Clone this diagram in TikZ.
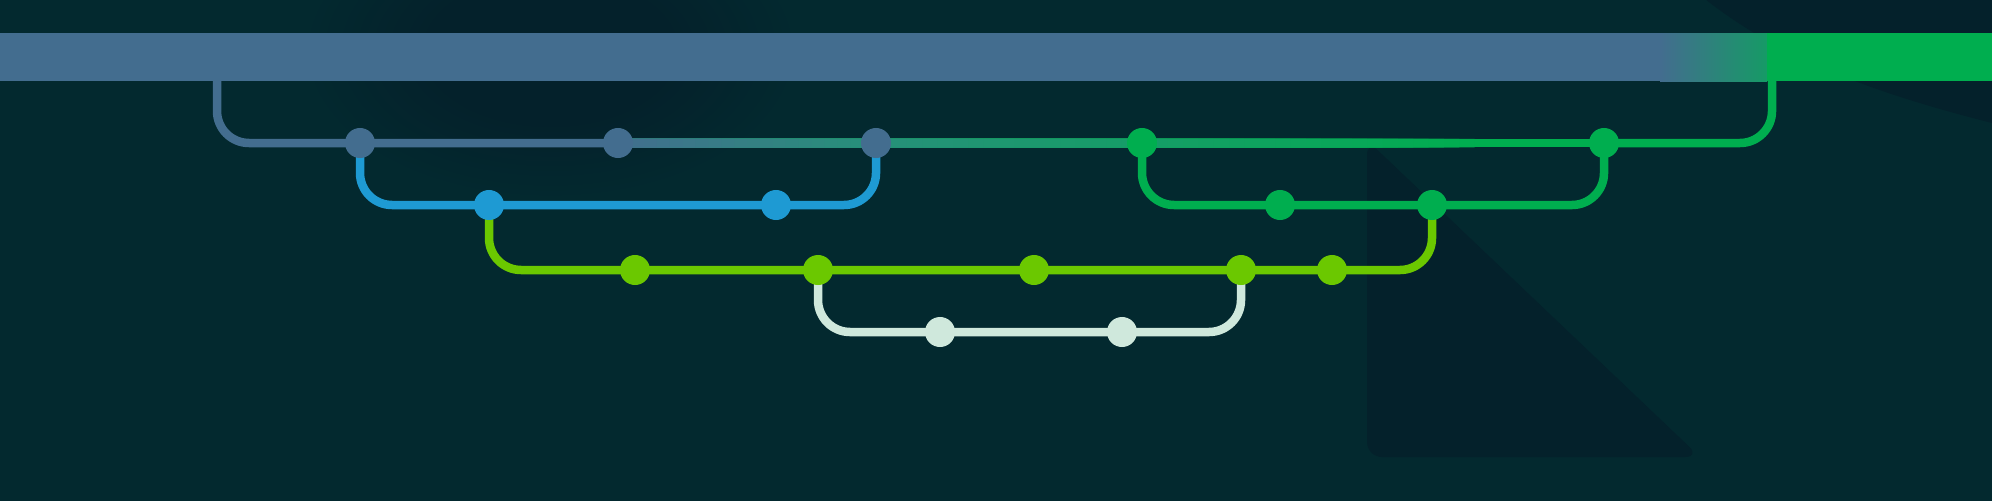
\documentclass[tikz,border=0pt]{standalone}
\usetikzlibrary{calc}
\definecolor{bg}{HTML}{03292F}
\definecolor{bgdark}{HTML}{04212B}
\definecolor{slate}{HTML}{436D8F}
\definecolor{tealmid}{HTML}{27907A}
\definecolor{grn}{HTML}{00AE4F}
\definecolor{barmid}{HTML}{169A66}
\definecolor{sky}{HTML}{1E9AD3}
\definecolor{limeg}{HTML}{6BC800}
\definecolor{mint}{HTML}{CFE8DC}
\pgfdeclareradialshading{softblob}{\pgfpoint{0bp}{0bp}}{color(0bp)=(bgdark); color(12bp)=(bgdark); color(25bp)=(bg); color(50bp)=(bg)}
\pgfdeclarelayer{backdrop}
\pgfdeclarelayer{lines}
\pgfsetlayers{backdrop,lines,main}
\tikzset{
  dot/.style={circle, minimum size=0.30cm, inner sep=0pt, fill=#1},
  ln/.style={line width=0.085cm, draw=#1, rounded corners=0.32cm},
  seg/.style={line width=0.085cm, draw=#1}
}
\begin{document}
\begin{tikzpicture}[x=0.01cm, y=-0.01cm]
\useasboundingbox (0,0) rectangle (1992,500);
% dots (named nodes)
\node[dot=slate] (m1) at (360,143) {};
\node[dot=slate] (m2) at (618,143) {};
\node[dot=slate] (m3) at (876,143) {};
\node[dot=grn] (g1) at (1142,143) {};
\node[dot=grn] (g2) at (1604,143) {};
\node[dot=sky] (b1) at (489,205) {};
\node[dot=sky] (b2) at (776,205) {};
\node[dot=grn] (gg1) at (1280,205) {};
\node[dot=grn] (gg2) at (1432,205) {};
\node[dot=limeg] (l1) at (635,270) {};
\node[dot=limeg] (l2) at (818,270) {};
\node[dot=limeg] (l3) at (1034,270) {};
\node[dot=limeg] (l4) at (1241,270) {};
\node[dot=limeg] (l5) at (1332,270) {};
\node[dot=mint] (w1) at (940,332) {};
\node[dot=mint] (w2) at (1122,332) {};
\coordinate (m0) at (217,81);
\coordinate (mE) at (1772,81);
\coordinate (gfull) at (1490,143);
% background
\begin{pgfonlayer}{backdrop}
\fill[bg] (-20,-20) rectangle (2012,520);
\begin{scope}
\clip (0,0) rectangle (1992,500);
\shade[shading=softblob] (550,50) ellipse (250 and 150);
\fill[bgdark] (1700,-5) .. controls (1780,60) and (1880,95) .. (2000,125) -- (2000,-5) -- cycle;
\fill[bgdark, rounded corners=0.15cm] (1367,140) -- (1700,457) -- (1367,457) -- cycle;
% top bar
\fill[slate] (-5,33) rectangle (1660,81);
\shade[left color=slate, right color=barmid] (1660,33) rectangle (1767,81);
\fill[grn] (1767,33) rectangle (2000,81);
\end{scope}
\end{pgfonlayer}
% connectors
\begin{pgfonlayer}{lines}
\draw[ln=slate] (m0) |- (m1.center) -- (m2.center);
% gradient part of the main line: nested strokes, longest first
\draw[seg=grn] (m2.center) -- (g2.center);
\foreach \i in {40,39,...,1}{
  \pgfmathsetmacro{\p}{100*\i/40}
  \pgfmathsetmacro{\t}{\i/40}
  \draw[seg=grn!\p!tealmid] (m2.center) -- ($(m3.center)!\t!(gfull)$);
}
\foreach \i in {20,19,...,1}{
  \pgfmathsetmacro{\p}{100*\i/20}
  \pgfmathsetmacro{\t}{\i/20}
  \draw[seg=tealmid!\p!slate] (m2.center) -- ($(m2.center)!\t!(m3.center)$);
}
\draw[ln=grn] (g2.center) -| (mE);
\draw[ln=sky] (m1.center) |- (b1.center) -- (b2.center) -| (m3.center);
\draw[ln=grn] (g1.center) |- (gg1.center) -- (gg2.center) -| (g2.center);
\draw[ln=limeg] (b1.center) |- (l1.center) -- (l2.center) -- (l3.center) -- (l4.center) -- (l5.center) -| (gg2.center);
\draw[ln=mint] (l2.center) |- (w1.center) -- (w2.center) -| (l4.center);
\end{pgfonlayer}
\end{tikzpicture}
\end{document}
